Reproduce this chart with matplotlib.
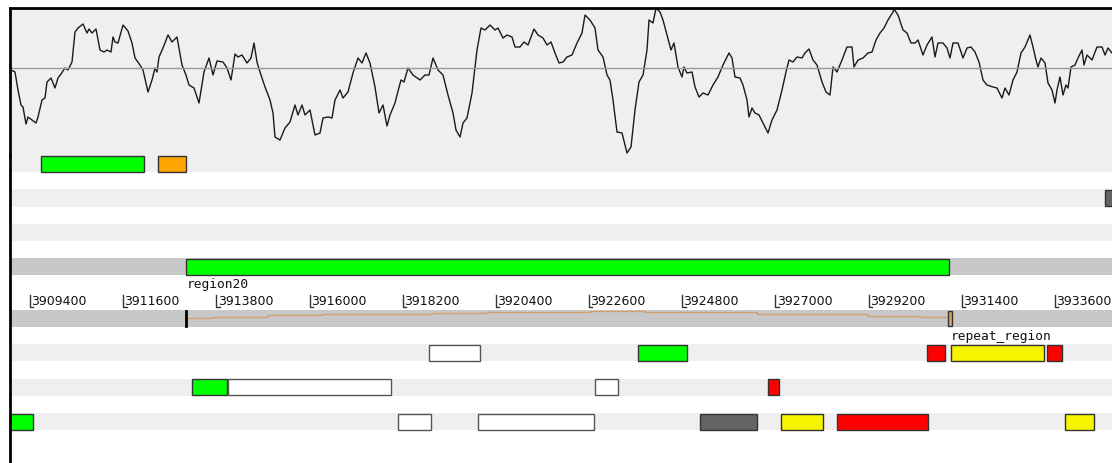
import matplotlib.pyplot as plt

# graph track (one value per window step)
window = [1, 5, 8, 11, 13, 16, 18, 22, 26, 28, 32, 35, 37, 41, 45, 48, 51, 55, 58, 62,
          65, 68, 73, 77, 79, 82, 86, 90, 94, 97, 101, 103, 105, 108, 113, 118, 122, 125, 130, 133,
          138, 142, 145, 147, 149, 153, 158, 162, 167, 172, 176, 179, 184, 189, 194, 199, 203, 207, 213, 217,
          221, 225, 228, 232, 237, 241, 244, 247, 250, 255, 260, 263, 265, 270, 275, 280, 285, 288, 292, 295,
          300, 305, 310, 313, 318, 322, 325, 330, 333, 338, 343, 348, 352, 356, 360, 365, 369, 373, 377, 380,
          385, 387, 391, 394, 398, 403, 410, 415, 419, 423, 428, 433, 438, 443, 446, 450, 453, 457, 462, 467,
          471, 475, 480, 485, 488, 493, 497, 502, 505, 510, 514, 518, 524, 528, 533, 537, 541, 545, 549, 553,
          557, 562, 567, 572, 575, 580, 585, 588, 593, 597, 600, 603, 607, 612, 617, 621, 625, 629, 633, 637,
          639, 643, 646, 650, 653, 657, 661, 664, 668, 672, 674, 677, 682, 685, 689, 693, 698, 703, 708, 713,
          719, 722, 725, 730, 733, 737, 739, 742, 745, 749, 753, 758, 762, 767, 772, 776, 779, 783, 787, 792,
          795, 799, 803, 807, 812, 816, 820, 823, 827, 832, 837, 842, 844, 848, 853, 858, 862, 866, 870, 874,
          878, 883, 884, 888, 893, 897, 901, 905, 908, 913, 917, 922, 925, 928, 933, 937, 940, 943, 948, 953,
          957, 961, 965, 969, 973, 977, 983, 987, 992, 995, 999, 1003, 1007, 1011, 1015, 1020, 1023, 1026, 1028, 1031,
          1035, 1038, 1042, 1045, 1047, 1050, 1053, 1056, 1058, 1061, 1065, 1068, 1072, 1074, 1077, 1082, 1087, 1092, 1095, 1098,
          1102]
score = [85, 83, 65, 50, 48, 31, 38, 35, 32, 38, 55, 57, 73, 77, 67, 77, 81, 87, 85, 93,
         123, 127, 131, 122, 126, 122, 126, 105, 103, 105, 103, 118, 113, 112, 130, 124, 112, 97, 90, 85,
         63, 75, 87, 83, 98, 107, 120, 113, 118, 90, 80, 70, 67, 52, 83, 97, 80, 94, 93, 87,
         75, 101, 98, 100, 92, 97, 112, 93, 83, 68, 55, 42, 18, 15, 27, 33, 50, 40, 50, 40,
         45, 20, 22, 37, 38, 37, 55, 65, 57, 63, 82, 97, 92, 102, 92, 68, 42, 50, 29, 40,
         52, 60, 75, 73, 87, 80, 75, 80, 80, 97, 85, 80, 60, 42, 25, 18, 32, 37, 62, 105,
         127, 125, 130, 125, 127, 117, 120, 118, 108, 108, 113, 110, 126, 120, 117, 110, 113, 102, 92, 93,
         98, 100, 112, 122, 140, 135, 127, 105, 98, 80, 75, 55, 23, 22, 2, 8, 45, 73, 80, 105,
         135, 132, 147, 143, 135, 120, 105, 112, 88, 78, 88, 82, 83, 68, 58, 62, 60, 70, 78, 90,
         102, 97, 78, 77, 70, 55, 38, 47, 42, 40, 32, 22, 35, 45, 65, 83, 95, 93, 98, 97,
         102, 106, 95, 90, 73, 63, 60, 88, 83, 95, 108, 108, 88, 95, 97, 102, 103, 115, 122, 127,
         135, 143, 146, 140, 125, 122, 112, 112, 115, 100, 110, 118, 98, 112, 112, 107, 97, 112, 112, 97,
         107, 108, 103, 93, 75, 70, 68, 67, 57, 67, 60, 75, 83, 102, 108, 120, 108, 95, 88, 97,
         92, 72, 65, 52, 65, 78, 60, 70, 67, 88, 90, 97, 105, 90, 100, 95, 108, 108, 100, 107,
         102]
score_mean = 87

# features: start, end (bp), track row, colour
feat_start = [3909660, 3912415, 3934781, 3913076,
              3918820, 3923762, 3930571, 3931138, 3933404,
              3913232, 3914075, 3922740, 3926817,
              3908810, 3918081, 3919984, 3925219, 3927138, 3928460, 3933836]
feat_end = [3912103, 3913076, 3935400, 3931105,
            3920017, 3924905, 3931003, 3933348, 3933758,
            3914063, 3917923, 3923290, 3927091,
            3909478, 3918861, 3922716, 3926557, 3928116, 3930602, 3934521]
feat_row = [0, 0, 2, 6,
            11, 11, 11, 11, 11,
            13, 13, 13, 13,
            15, 15, 15, 15, 15, 15, 15]
feat_color = ['#00ff00', '#ffa500', '#646464', '#00ff00',
              '#ffffff', '#00ff00', '#ff0000', '#f5f500', '#ff0000',
              '#00ff00', '#ffffff', '#ffffff', '#ff0000',
              '#00ff00', '#ffffff', '#ffffff', '#646464', '#f5f500', '#ff0000', '#f5f500']

# labels
labels = ['region20', 'repeat_region']
label_pos = [3913100, 3931130]
label_row = [7, 10]

# stepped line in reverse dna row
step_pos = [3913076, 3913721, 3914996, 3916294, 3917593, 3918891, 3920190, 3921441,
            3922622, 3923920, 3925219, 3926564, 3927863, 3929162, 3930413, 3931105]
step_val = [0.52, 0.61, 0.67, 0.73, 0.78, 0.81, 0.87, 0.90,
            0.93, 0.90, 0.87, 0.78, 0.73, 0.64, 0.58, 0.52]

ticks = [3909400, 3911600, 3913800, 3916000, 3918200, 3920400,
         3922600, 3924800, 3927000, 3929200, 3931400, 3933600]

x_lo, x_hi = 3908928, 3934946

fig = plt.figure(figsize=(11.12, 4.63), dpi=100)

# graph panel
gax = fig.add_axes([10/1112, 1-155/463, 1102/1112, 147/463])
gax.set_facecolor('#efefef')
gax.plot(window, score, color='#1a1a1a', lw=1)
gax.axhline(score_mean, color='#999999', lw=1)
gax.set_xlim(0, 1102)
gax.set_ylim(0, 147)
gax.set_xticks([])
gax.set_yticks([])
for s in ['right', 'bottom']:
    gax.spines[s].set_visible(False)
for s in ['left', 'top']:
    gax.spines[s].set_color('black')
    gax.spines[s].set_linewidth(2)

# feature panel
fax = fig.add_axes([10/1112, 0, 1102/1112, 308/463])
fax.set_xlim(x_lo, x_hi)
fax.set_ylim(308/17.2, 0)
fax.set_xticks([])
fax.set_yticks([])
for s in ['right', 'bottom', 'top']:
    fax.spines[s].set_visible(False)
fax.spines['left'].set_color('black')
fax.spines['left'].set_linewidth(2)

for r in [0, 2, 4, 11, 13, 15]:
    fax.axhspan(r, r + 1, color='#efefef', lw=0, zorder=0)
for r in [6, 9]:
    fax.axhspan(r, r + 1, color='#c8c8c8', lw=0, zorder=0)

for s, e, r, c in zip(feat_start, feat_end, feat_row, feat_color):
    ec = '#555555' if c == '#ffffff' else '#333333'
    fax.barh(r + 0.5, e - s, left=s, height=0.92, color=c, edgecolor=ec, lw=1, zorder=2)

for t, p, r in zip(labels, label_pos, label_row):
    fax.text(p, r + 0.55, t, family='DejaVu Sans Mono', fontsize=9.3,
             ha='left', va='center', color='#111111')

# scale
for t in ticks:
    fax.plot([t, t, t + 80], [8.15, 8.85, 8.85], color='#333333', lw=1, zorder=3)
    fax.text(t + 30, 8.5, str(t), fontsize=9, ha='left', va='center', color='#111111')

# reverse dna row
fax.step(step_pos, [10 - v for v in step_val], where='post', color='#d2a070', lw=1, zorder=2)
fax.plot([step_pos[0], step_pos[0]], [9.08, 9.95], color='black', lw=2, zorder=3)
fax.bar(step_pos[-1] - 30, 0.9, width=95, bottom=9.05, color='#e0a060',
        edgecolor='#333333', lw=1, align='edge', zorder=3)

fig.savefig('out.png', dpi=100)
